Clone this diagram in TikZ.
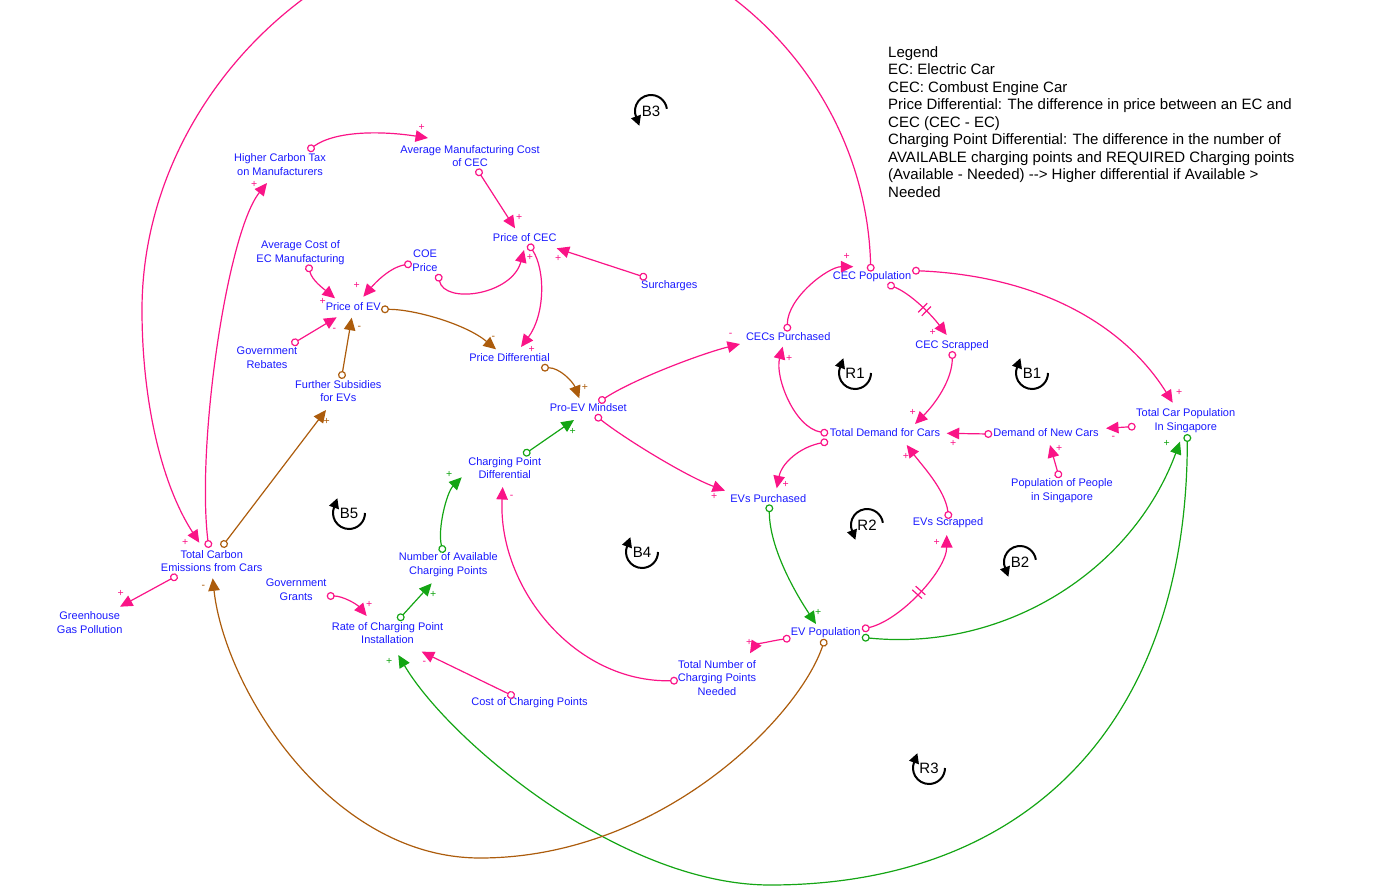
\documentclass[tikz,border=0pt]{standalone}
\usepackage{fontspec}
\setmainfont{Liberation Sans}
\usetikzlibrary{arrows.meta,calc,decorations.markings}
\definecolor{pkc}{RGB}{250,20,135}
\definecolor{brc}{RGB}{172,92,12}
\definecolor{grc}{RGB}{20,165,20}
\definecolor{lbc}{RGB}{25,25,255}

\begin{document}
\begin{tikzpicture}[x=1pt,y=-1pt,
  lbl/.style={font=\fontsize{11}{13.8}\selectfont,text=lbc,align=center,inner sep=1pt},
  lk/.style={line width=1.2pt,{Circle[open,length=8pt]}-{Triangle[length=12.5pt,width=11.5pt]},shorten <=-4pt},
  pk/.style={lk,color=pkc},
  br/.style={lk,color=brc},
  gr/.style={lk,color=grc},
  dly/.style={postaction={decorate,decoration={markings,mark=at position #1 with {\draw[-,shorten <=0pt] (-2.5,-6.5)--(-2.5,6.5) (2.5,-6.5)--(2.5,6.5);}}}},
  sg/.style={font=\fontsize{10.5}{10.5}\selectfont,inner sep=0pt},
  lp/.style={font=\fontsize{15}{15}\selectfont,inner sep=0pt},
  la/.style={line width=2pt,-{Triangle[length=10pt,width=10pt]}}]
  \useasboundingbox (0,0) rectangle (1377,890);

  % variables
  \node[lbl] (hct) at (280,164.5) {Higher Carbon Tax\\on Manufacturers};
  \node[lbl] (amc) at (470,156) {Average Manufacturing Cost\\of CEC};
  \node[lbl] (pcec) at (524.7,238) {Price of CEC};
  \node[lbl] (acem) at (300.5,252.3) {Average Cost of\\EC Manufacturing};
  \node[lbl] (coe) at (425,261) {COE\\Price};
  \node[lbl] (pev) at (353.3,307) {Price of EV};
  \node[lbl] (sur) at (669.3,286) {Surcharges};
  \node[lbl] (grb) at (267,358) {Government\\Rebates};
  \node[lbl] (fsub) at (338.3,391) {Further Subsidies\\for EVs};
  \node[lbl] (pdif) at (509.5,358) {Price Differential};
  \node[lbl] (pevm) at (588.3,408) {Pro-EV Mindset};
  \node[lbl] (cpd) at (504.7,468) {Charging Point\\Differential};
  \node[lbl] (cecp) at (788.2,336.5) {CECs Purchased};
  \node[lbl] (cpop) at (872,277) {CEC Population};
  \node[lbl] (cecs) at (952,346) {CEC Scrapped};
  \node[lbl] (tdc) at (885,433) {Total Demand for Cars};
  \node[lbl] (dnc) at (1046,433) {Demand of New Cars};
  \node[lbl] (tcp) at (1185.7,421) {Total Car Population\\In Singapore};
  \node[lbl] (pps) at (1062,491) {Population of People\\in Singapore};
  \node[lbl] (evp) at (768.3,499) {EVs Purchased};
  \node[lbl] (evs) at (948,523) {EVs Scrapped};
  \node[lbl] (evpop) at (825.7,633) {EV Population};
  \node[lbl] (tncp) at (717,678) {Total Number of\\Charging Points\\Needed};
  \node[lbl] (nacp) at (448.3,565) {Number of Available\\Charging Points};
  \node[lbl] (rcpi) at (387.5,633) {Rate of Charging Point\\Installation};
  \node[lbl] (ggr) at (296.2,590) {Government\\Grants};
  \node[lbl] (ccp) at (529.5,703) {Cost of Charging Points};
  \node[lbl] (tce) at (211.7,561) {Total Carbon\\Emissions from Cars};
  \node[lbl] (ggp) at (89.7,622.3) {Greenhouse\\Gas Pollution};

  \node[font=\fontsize{15}{17.5}\selectfont,align=left,anchor=north west,inner sep=0pt] (leg) at (888,46)
    {Legend\\EC: Electric Car\\CEC: Combust Engine Car\\
     Price Differential: The difference in price between an EC and\\CEC (CEC - EC)\\
     Charging Point Differential: The difference in the number of\\
     AVAILABLE charging points and REQUIRED Charging points\\
     (Available - Needed) \mbox{-}\mbox{-}> Higher differential if Available >\\Needed};

  % links
  \draw[pk] ($(hct)+(31,-16.2)$) .. controls +(25,-18) and +(-45,-7) .. ($(amc)+(-42,-18)$);
  \draw[pk] ($(amc)+(9,16.3)$) -- ($(pcec)+(-9.7,-9.7)$);
  \draw[pk] ($(pcec)+(6,9.3)$) .. controls +(15,23) and +(24,-32) .. ($(pdif)+(11.5,-11)$);
  \draw[pk] ($(acem)+(8.5,16)$) .. controls +(3,12) and +(-12,-10) .. ($(pev)+(-18.3,-8.7)$);
  \draw[pk] ($(coe)+(-17,3.3)$) .. controls +(-18,3) and +(12,-14) .. ($(pev)+(10,-10.3)$);
  \draw[pk] ($(coe)+(13.7,16.7)$) .. controls +(6,27) and +(-12,45) .. ($(pcec)+(-0.7,12)$);
  \draw[pk] ($(sur)+(-26,-9.3)$) -- ($(pcec)+(32,10.3)$);
  \draw[pk] ($(grb)+(28,-15.7)$) -- ($(pev)+(-16.6,10.3)$);
  \draw[br] ($(fsub)+(3.7,-16)$) -- ($(pev)+(-1.6,10.7)$);
  \draw[br] ($(pev)+(31.7,2.3)$) .. controls +(30,0) and +(-30,-25) .. ($(pdif)+(-13.5,-8.7)$);
  \draw[br] ($(pdif)+(35.5,9.7)$) .. controls +(15,0) and +(-6,-16) .. ($(pevm)+(-9,-9.7)$);
  \draw[gr] ($(cpd)+(22,-15.3)$) -- ($(pevm)+(-14.3,12)$);
  \draw[pk] ($(pevm)+(13.7,-8)$) .. controls +(30,-20) and +(-40,10) .. ($(cecp)+(-48.2,7.5)$);
  \draw[pk] ($(pevm)+(10,9.7)$) .. controls +(25,20) and +(-40,-15) .. ($(evp)+(-43.3,-8.3)$);
  \draw[pk] ($(tdc)+(-60.7,-0.3)$) .. controls +(-30,-5) and +(-8,30) .. ($(cecp)+(-5.5,10.2)$);
  \draw[pk] ($(tdc)+(-60.7,9.3)$) .. controls +(-25,5) and +(5,-25) .. ($(evp)+(8.4,-10.7)$);
  \draw[pk] ($(cecp)+(-0.9,-8.8)$) .. controls +(0,-30) and +(-25,0) .. ($(cpop)+(-18.7,-10.3)$);
  \draw[pk,dly=.55] ($(cpop)+(19,8.7)$) .. controls +(20,8) and +(-15,-20) .. ($(cecs)+(-5.3,-11)$);
  \draw[pk] ($(cecs)+(0.3,9)$) .. controls +(0,25) and +(20,-20) .. ($(tdc)+(30,-9)$);
  \draw[pk] ($(dnc)+(-57.7,1)$) -- ($(tdc)+(61.7,0.3)$);
  \draw[pk] ($(tcp)+(-54,5.7)$) -- ($(dnc)+(60,-4.7)$);
  \draw[pk] ($(pps)+(-3.7,-16.7)$) -- ($(dnc)+(4,12)$);
  \draw[pk] ($(cpop)+(44,-6.3)$) .. controls +(120,5) and +(-50,-80) .. ($(tcp)+(-13,-18.3)$);
  \draw[pk] ($(evs)+(0.3,-8)$) .. controls +(-3,-25) and +(15,20) .. ($(tdc)+(21.7,12)$);
  \draw[gr] ($(evp)+(1,9.3)$) .. controls +(0,40) and +(-20,-30) .. ($(evpop)+(-9.7,-9)$);
  \draw[pk,dly=.5] ($(evpop)+(40,-4.7)$) .. controls +(35,-8) and +(0,35) .. ($(evs)+(-1.3,12)$);
  \draw[gr] ($(evpop)+(40,4.7)$) .. controls +(138,14) and +(-48,130) .. ($(tcp)+(-5.7,20.7)$);
  \draw[pk] ($(evpop)+(-39,5.7)$) .. controls +(-15,2) and +(5,-8) .. ($(tncp)+(33,-24.7)$);
  \draw[pk] ($(tncp)+(-43,2.7)$) .. controls +(-100,2) and +(-5,100) .. ($(cpd)+(-2,19)$);
  \draw[gr] ($(nacp)+(-6,-16)$) .. controls +(-5,-20) and +(-15,15) .. ($(cpd)+(-43,9.3)$);
  \draw[pk] ($(ggr)+(34.5,6)$) .. controls +(12,0) and +(-10,-12) .. ($(rcpi)+(-20.8,-17)$);
  \draw[gr] ($(rcpi)+(13.2,-15.7)$) -- ($(nacp)+(-16.6,18.3)$);
  \draw[pk] ($(ccp)+(-18.5,-8)$) -- ($(rcpi)+(34.2,18.7)$);
  \draw[pk] ($(tce)+(-3.4,-17)$) .. controls +(-12,-100) and +(-40,50) .. ($(hct)+(-13,18.5)$);
  \draw[br] ($(tce)+(12.3,-17)$) -- ($(fsub)+(-12.3,19)$);
  \draw[pk] ($(tce)+(-37.7,16.3)$) -- ($(ggp)+(30.3,-15.6)$);

  % long arcs
  \coordinate (gbot) at (770,885);
  \coordinate (bbot) at (480,858);
  \coordinate (ptop) at (515,-75);
  \coordinate (pleft) at (142,310);
  \draw[gr] ($(tcp)+(1.6,17)$) .. controls +(0,282) and +(260,0) .. (gbot)
    .. controls +(-150,0) and +(50,85) .. ($(rcpi)+(10.8,22)$);
  \draw[br] ($(evpop)+(-2,9.7)$) .. controls +(-25,75) and +(180,0) .. (bbot)
    .. controls +(-150,0) and +(12,110) .. ($(tce)+(1,17.3)$);
  \draw[pk] ($(cpop)+(-1.3,-9.3)$) .. controls +(-5,-189) and +(196,0) .. (ptop)
    .. controls +(-190,0) and +(0,-210) .. (pleft)
    .. controls +(0,85) and +(-40,-62) .. ($(tce)+(-12.4,-18.3)$);

  % polarities
  \foreach \x/\y/\s [count=\i] in {421.7/127.3/+,519.3/217.3/+,531.7/349.3/+,322.7/301.7/+,356.7/285.7/+,
      530/257.7/+,558.3/258.3/+,334.3/330/-,730.7/335/-,714.3/496.7/+,789.3/358.3/+,785.7/484.3/+,
      846.7/256.7/+,932.7/332.7/+,912.7/412.3/+,953.3/443.3/+,1113.3/438.3/-,1059.3/448.3/+,
      1179.3/392.3/+,906/456/+,936.7/542.7/+,749.3/642.7/+,511.7/497.3/-,369.3/604/+,424.3/662.7/-,
      185.3/542.3/+,254.3/184.3/+,120.7/593.3/+}
    \node[sg,text=pkc] (sp\i) at (\x,\y) {\s};
  \foreach \x/\y/\s [count=\i] in {359.3/328.3/-,493.3/338.3/-,585/387.3/+,203.3/587.3/-,326.7/421.7/+}
    \node[sg,text=brc] (sb\i) at (\x,\y) {\s};
  \foreach \x/\y/\s [count=\i] in {572.7/431.7/+,818.3/612.7/+,1166.7/443.3/+,449.3/474/+,433.3/594.3/+,389.3/661.7/+}
    \node[sg,text=grc] (sg\i) at (\x,\y) {\s};

  % loop markers
  \foreach \x/\y/\t [count=\i] in {855/373/R1,1032/373/B1,349/513/B5,642/552/B4,929/768/R3} {
    \node[lp] (lr\i) at (\x,\y) {\t};
    \draw[la] (\x,\y) ++(0:16pt) arc[start angle=0,end angle=-200,radius=16pt] -- ++(70:10pt);
  }
  \foreach \x/\y/\t [count=\i] in {651/111/B3,867/525/R2,1020/562/B2} {
    \node[lp] (lb\i) at (\x,\y) {\t};
    \draw[la] (\x,\y) ++(8:16pt) arc[start angle=8,end angle=200,radius=16pt] -- ++(-70:10pt);
  }
\end{tikzpicture}
\end{document}
